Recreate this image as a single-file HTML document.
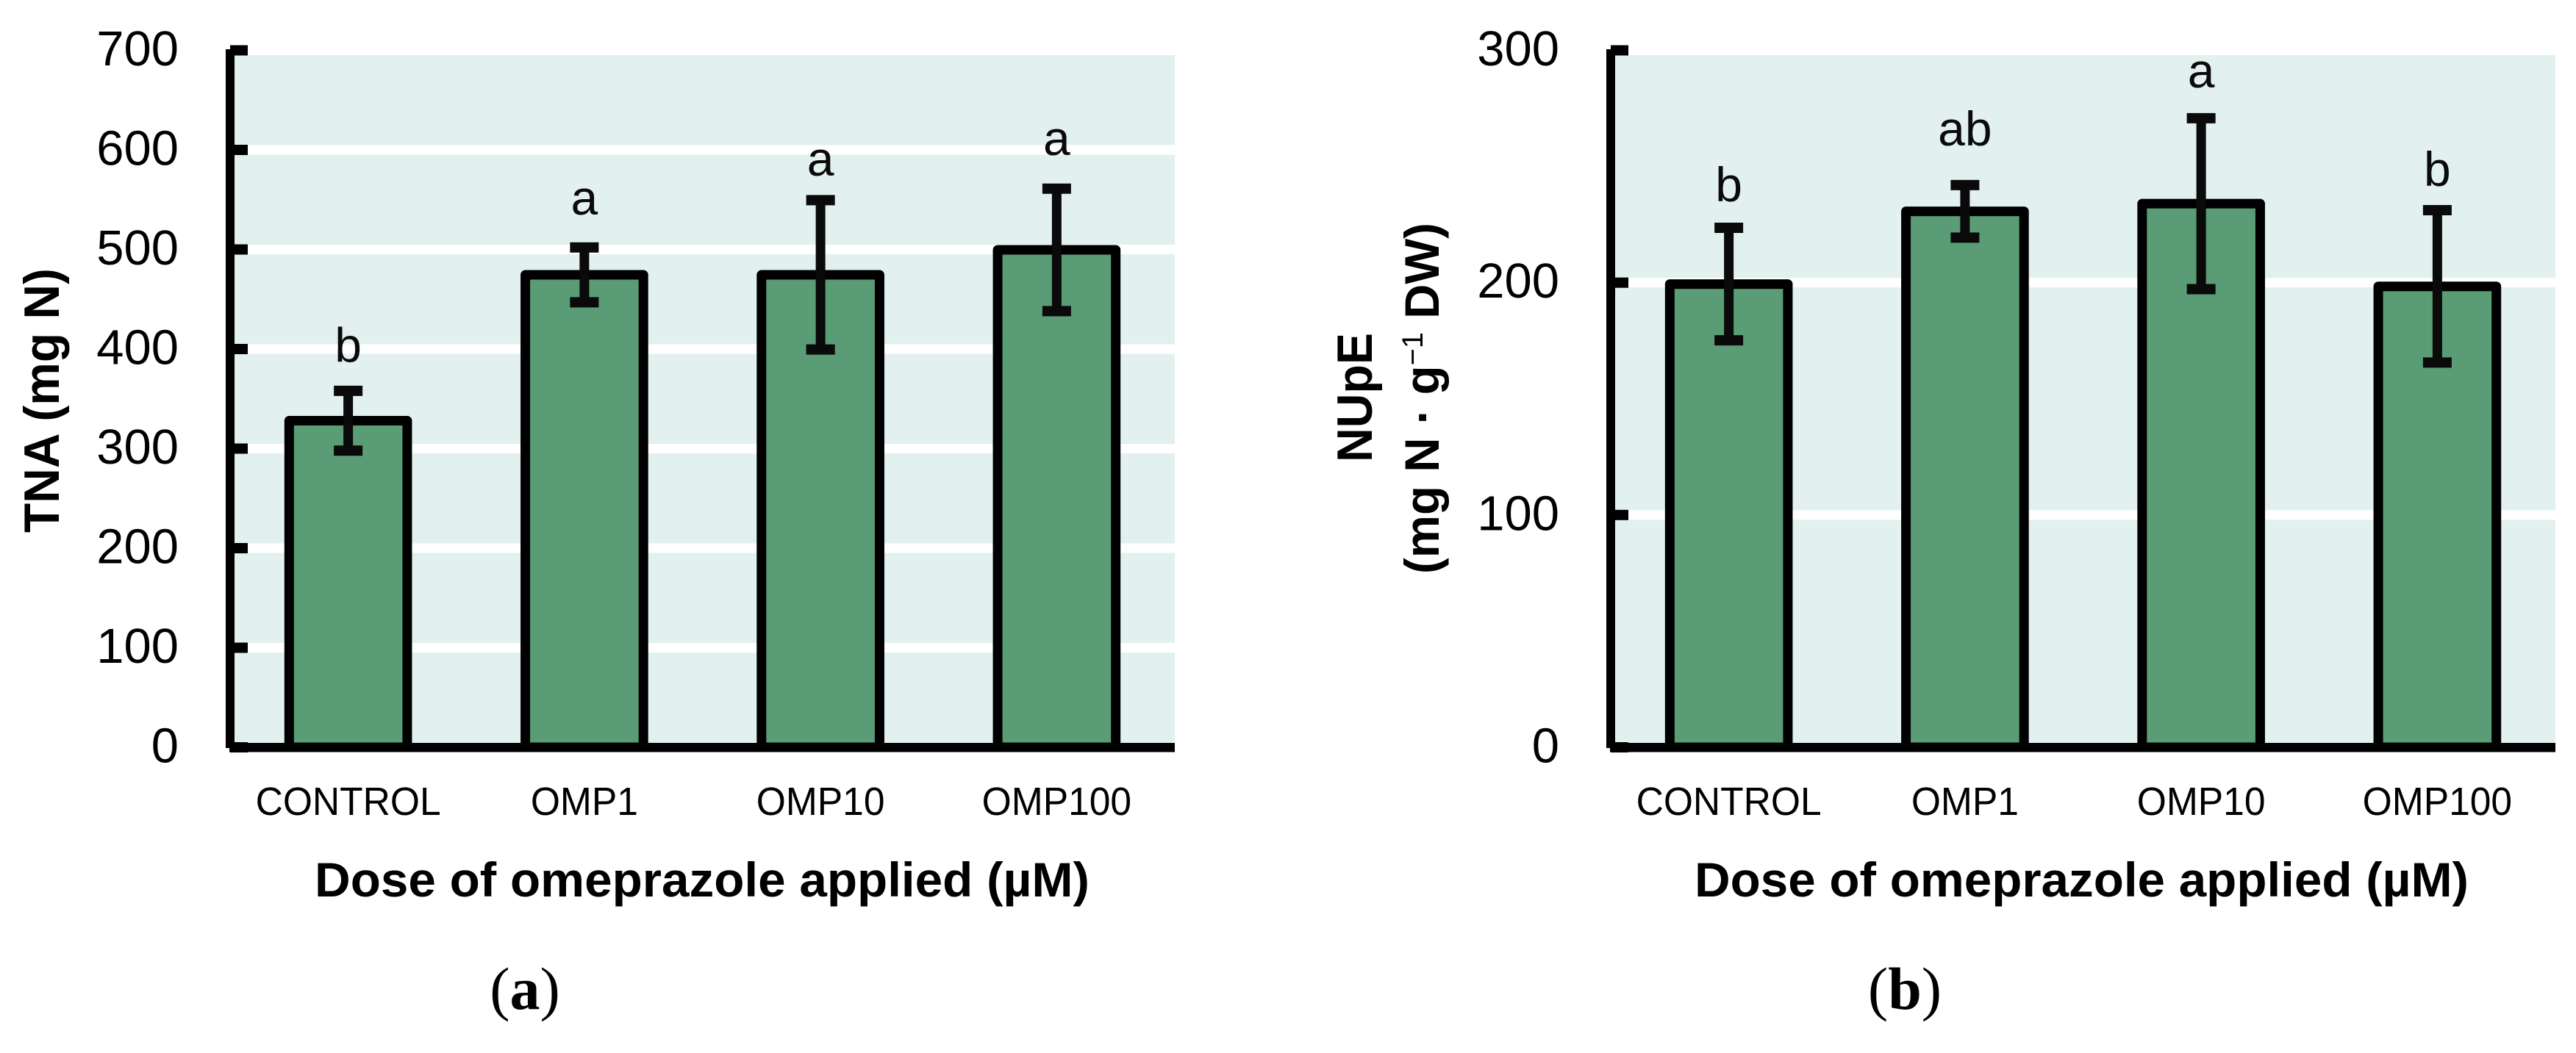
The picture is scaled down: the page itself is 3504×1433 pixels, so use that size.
<!DOCTYPE html>
<html lang="en">
<head>
<meta charset="utf-8">
<title>Omeprazole dose charts</title>
<style>
html,body{margin:0;padding:0;background:#fff;width:3504px;height:1433px;overflow:hidden}
svg{display:block;font-family:"Liberation Sans",sans-serif}
</style>
</head>
<body>
<svg id="figure" xmlns="http://www.w3.org/2000/svg" width="3504" height="1433" viewBox="0 0 3504 1433">
  <rect width="3504" height="1433" fill="#ffffff"/>
  <g id="panel-a"></g>
  <g id="panel-b"></g>

  <text transform="translate(80,725) rotate(-90)" font-size="68" font-weight="700" textLength="360" lengthAdjust="spacingAndGlyphs">TNA (mg N)</text>
  <text transform="translate(1866,629) rotate(-90)" font-size="68" font-weight="700" textLength="176" lengthAdjust="spacingAndGlyphs">NUpE</text>
  <text transform="translate(1957,781) rotate(-90)" font-size="66" font-weight="700" textLength="478" lengthAdjust="spacingAndGlyphs">(mg N · g<tspan dy="-22" font-size="40" font-weight="400">−1</tspan><tspan dy="22"> DW)</tspan></text>

  <text x="428" y="1220" font-size="66" font-weight="700" textLength="1054" lengthAdjust="spacingAndGlyphs">Dose of omeprazole applied (µM)</text>
  <text x="2305" y="1220" font-size="66" font-weight="700" textLength="1053" lengthAdjust="spacingAndGlyphs">Dose of omeprazole applied (µM)</text>

  <text x="714" y="1373" text-anchor="middle" font-size="82" style="font-family:'Liberation Serif',serif">(<tspan font-weight="700">a</tspan>)</text>
  <text x="2591" y="1373" text-anchor="middle" font-size="82" style="font-family:'Liberation Serif',serif">(<tspan font-weight="700">b</tspan>)</text>
</svg>

<script>
const categories = ['CONTROL', 'OMP1', 'OMP10', 'OMP100'];

const tnaTicks = [0, 100, 200, 300, 400, 500, 600, 700];
const tnaMeans = [328, 474.5, 474.5, 499.6];
const tnaErrors = [30, 27.5, 75, 61.5];
const tnaLetters = ['b', 'a', 'a', 'a'];
const tnaLetterLevels = [387, 535, 574, 595];

const nupeTicks = [0, 100, 200, 300];
const nupeMeans = [199.4, 230.7, 234, 198.4];
const nupeErrors = [24.2, 11.3, 36.8, 32.8];
const nupeLetters = ['b', 'ab', 'a', 'b'];
const nupeLetterLevels = [235, 259, 284, 241.7];

const SVG_NS = 'http://www.w3.org/2000/svg';

function make(parent, tag, attrs, text) {
  const el = document.createElementNS(SVG_NS, tag);
  for (const k in attrs) el.setAttribute(k, attrs[k]);
  if (text !== undefined) el.textContent = text;
  parent.appendChild(el);
  return el;
}

function drawChart(rootId, ticks, means, errors, letters, letterLevels) {
  const root = document.getElementById(rootId);
  const layoutLeft = rootId === 'panel-a' ? 313 : 2191;
  const plotWidth = 1285;
  const zeroY = 1017;
  const topY = 68.5;
  const bgTop = 75;
  const maxTick = Math.max.apply(null, ticks);
  const yScale = v => zeroY - (v / maxTick) * (zeroY - topY);
  const band = plotWidth / categories.length;
  const xScale = i => layoutLeft + band * (i + 0.5);
  const barWidth = band / 2;

  const bg = make(root, 'rect', {x: layoutLeft, y: bgTop, width: plotWidth, height: 1011 - bgTop, fill: '#e2f1ef'});
  
  

  ticks.forEach(t => {
    if (t === 0 || t === maxTick) return;
    const grid = make(root, 'rect', {x: layoutLeft, y: yScale(t) - 6.5, width: plotWidth, height: 13, fill: '#ffffff'});
    
    
  });

  categories.forEach((c, i) => {
    const cx = xScale(i);
    const bar = make(root, 'rect', {
      x: cx - barWidth / 2, y: yScale(means[i]), width: barWidth, height: zeroY - yScale(means[i]),
      fill: '#5a9c75', stroke: '#000000', 'stroke-width': 13, 'stroke-linejoin': 'round'
    });
    
    

    const hi = yScale(means[i] + errors[i]);
    const lo = yScale(means[i] - errors[i]);
    const stem = make(root, 'line', {x1: cx, x2: cx, y1: hi, y2: lo, stroke: '#0a0a0a', 'stroke-width': 13});
    
    

    const capTop = make(root, 'line', {x1: cx - 19.5, x2: cx + 19.5, y1: hi, y2: hi, stroke: '#0a0a0a', 'stroke-width': 14});
    
    

    const capBottom = make(root, 'line', {x1: cx - 19.5, x2: cx + 19.5, y1: lo, y2: lo, stroke: '#0a0a0a', 'stroke-width': 14});
    
    

    const letter = make(root, 'text', {x: cx, y: yScale(letterLevels[i]), 'text-anchor': 'middle', 'font-size': 66, fill: '#0a0a0a'}, letters[i]);
    
    

    const catLabel = make(root, 'text', {
      transform: 'translate(' + cx + ',1109) scale(0.955,1)', 'text-anchor': 'middle', 'font-size': 54, fill: '#000000'
    }, c);
    
    
  });

  const yAxis = make(root, 'rect', {x: layoutLeft - 6, y: 67, width: 12, height: 951, fill: '#000000'});
  
  

  const xAxis = make(root, 'rect', {x: layoutLeft - 1, y: 1011, width: plotWidth + 1, height: 12.5, fill: '#000000'});
  
  

  ticks.forEach(t => {
    const y = yScale(t);
    const tick = make(root, 'rect', {x: layoutLeft, y: y - 7, width: 24, height: 14, fill: '#000000'});
    
    

    const label = make(root, 'text', {x: layoutLeft - 70, y: y + 20.5, 'text-anchor': 'end', 'font-size': 67, fill: '#000000'}, String(t));
    
    
  });
}

drawChart('panel-a', tnaTicks, tnaMeans, tnaErrors, tnaLetters, tnaLetterLevels);
drawChart('panel-b', nupeTicks, nupeMeans, nupeErrors, nupeLetters, nupeLetterLevels);
</script>
</body>
</html>
